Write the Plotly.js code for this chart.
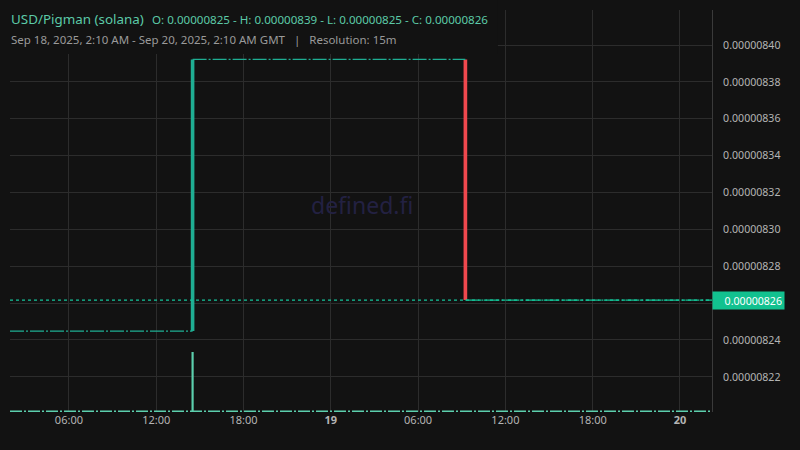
<!DOCTYPE html>
<html>
<head>
<meta charset="utf-8">
<script src="https://cdn.plot.ly/plotly-3.0.1.min.js"></script>
<style>
  html, body { margin: 0; padding: 0; background: #121212; }
  #chart { width: 800px; height: 450px; }
</style>
</head>
<body>
<div id="chart"></div>
<script>
// USD/Pigman 15m candles, Sep 18 02:10 -> Sep 20 02:10 GMT
const viewRange = ['2025-09-18 01:57', '2025-09-20 02:12'];

// flat stretches between the two real moves
const flatTimes  = ['2025-09-18 01:57', '2025-09-18 14:30', '2025-09-19 09:15', '2025-09-20 02:12'];
const flatPrices = [0.0000082448, 0.0000083922, 0.0000082616];

// the two candles that actually move
const candleTimes = ['2025-09-18 14:30', '2025-09-19 09:15'];
const candleOpen  = [0.0000082448, 0.0000083922];
const candleClose = [0.0000083922, 0.0000082616];

// volume
const volTimes   = ['2025-09-18 14:30'];
const volValues  = [1180];
const volBaseTimes = ['2025-09-18 01:57', '2025-09-20 02:12'];
const volBase    = [14, 14];

const lastClose = candleClose[candleClose.length - 1];

const xTickVals = ['2025-09-18 06:00', '2025-09-18 12:00', '2025-09-18 18:00', '2025-09-19 00:00',
                   '2025-09-19 06:00', '2025-09-19 12:00', '2025-09-19 18:00', '2025-09-20 00:00'];
const xTickText = ['06:00', '12:00', '18:00', '<b>19</b>', '06:00', '12:00', '18:00', '<b>20</b>'];

// price ticks; the 0.00000826 label sits under the live price tag
const yTickVals = [0.00000822, 0.00000824, 0.00000826, 0.00000828, 0.0000083,
                   0.00000832, 0.00000834, 0.00000836, 0.00000838, 0.0000084];
const yTickText = ['0.00000822', '0.00000824', '', '0.00000828', '0.00000830',
                   '0.00000832', '0.00000834', '0.00000836', '0.00000838', '0.00000840'];

const UP = '#1fae93';
const DOWN = '#f0484e';
const BG = '#121212';
const GRID = '#2c2c2c';
const FONT = 'Noto Sans, Open Sans, sans-serif';

const traces = [];

// flat price stretches, drawn dash-dot like the reference
flatPrices.forEach((p, i) => {
  traces.push({
    x: [flatTimes[i], flatTimes[i + 1]], y: [p, p],
    type: 'scatter', mode: 'lines', hoverinfo: 'skip',
    line: { color: i === 2 ? '#14c194' : UP, width: 1.3, dash: '14px,2px,2px,2px' }
  });
});

// candles as bars with base
traces.push({
  x: candleTimes,
  base: candleOpen.map((o, i) => Math.min(o, candleClose[i])),
  y: candleOpen.map((o, i) => Math.abs(candleClose[i] - o)),
  type: 'bar', width: 900000, hoverinfo: 'skip',
  marker: { color: candleOpen.map((o, i) => candleClose[i] >= o ? UP : DOWN), line: { width: 0 } }
});

// volume
traces.push({
  x: volBaseTimes, y: volBase, yaxis: 'y2',
  type: 'scatter', mode: 'lines', hoverinfo: 'skip',
  line: { color: '#5ccfad', width: 1.5, dash: '12px,2px,2px,2px' }
});
traces.push({
  x: volTimes, y: volValues, yaxis: 'y2',
  type: 'bar', width: 540000, hoverinfo: 'skip',
  marker: { color: '#5ccfad', line: { width: 0 } }
});

const layout = {
  width: 800, height: 450,
  paper_bgcolor: BG, plot_bgcolor: BG,
  margin: { l: 10, r: 88, t: 10, b: 38 },
  showlegend: false, hovermode: false, barmode: 'overlay',
  font: { family: FONT, color: '#b4b4b4', size: 11 },
  xaxis: {
    type: 'date', range: viewRange,
    tickvals: xTickVals, ticktext: xTickText,
    showgrid: true, gridcolor: GRID, gridwidth: 1,
    zeroline: false, showline: false, ticks: '',
    tickfont: { color: '#b4b4b4', size: 11 }
  },
  yaxis: {
    side: 'right', range: [0.0000082009, 0.000008419],
    tickvals: yTickVals, ticktext: yTickText,
    showgrid: true, gridcolor: GRID, gridwidth: 1,
    zeroline: false, showline: true, linecolor: '#3a3a3a', linewidth: 1,
    ticks: '', ticklabelstandoff: 8,
    tickfont: { color: '#b4b4b4', size: 10.6 }
  },
  yaxis2: {
    overlaying: 'y', range: [0, 7906], visible: false, showgrid: false
  },
  shapes: [
    // header backdrop hides grid under the title text
    { type: 'rect', xref: 'paper', yref: 'paper', x0: -0.02, x1: 0.695, y0: 0.8905, y1: 1.05,
      fillcolor: BG, line: { width: 0 }, layer: 'above' },
    // live price line
    { type: 'line', xref: 'paper', yref: 'y', x0: 0, x1: 1, y0: lastClose, y1: lastClose,
      line: { color: '#14c49a', width: 1.2, dash: 'dot' }, layer: 'above' }
  ],
  annotations: [
    { xref: 'paper', yref: 'paper', x: -0.002, y: 0.9776, xanchor: 'left', yanchor: 'middle',
      text: 'USD/Pigman (solana)', showarrow: false,
      font: { family: FONT, size: 13.4, color: '#5ccaa8' } },
    { xref: 'paper', yref: 'paper', x: 0.1995, y: 0.9776, xanchor: 'left', yanchor: 'middle',
      text: 'O: 0.00000825 - H: 0.00000839 - L: 0.00000825 - C: 0.00000826', showarrow: false,
      font: { family: FONT, size: 11.6, color: '#5ccaa8' } },
    { xref: 'paper', yref: 'paper', x: -0.002, y: 0.9254, xanchor: 'left', yanchor: 'middle',
      text: 'Sep 18, 2025, 2:10 AM - Sep 20, 2025, 2:10 AM GMT\u00a0\u00a0\u00a0|\u00a0\u00a0\u00a0Resolution: 15m',
      showarrow: false, font: { family: FONT, size: 11.5, color: '#9a9a9a' } },
    { xref: 'paper', yref: 'paper', x: 0.501, y: 0.515, xanchor: 'center', yanchor: 'middle',
      text: 'defined.fi', showarrow: false,
      font: { family: FONT, size: 23, color: '#232142' } },
    { xref: 'paper', yref: 'y', x: 1, y: lastClose, xanchor: 'left', yanchor: 'middle',
      text: '0.00000826', showarrow: false, bgcolor: '#12c18f', borderpad: 2,
      width: 67, height: 13, align: 'right',
      font: { family: FONT, size: 10.6, color: '#ffffff' } }
  ]
};

Plotly.newPlot('chart', traces, layout, { staticPlot: true, displayModeBar: false });
</script>
</body>
</html>
